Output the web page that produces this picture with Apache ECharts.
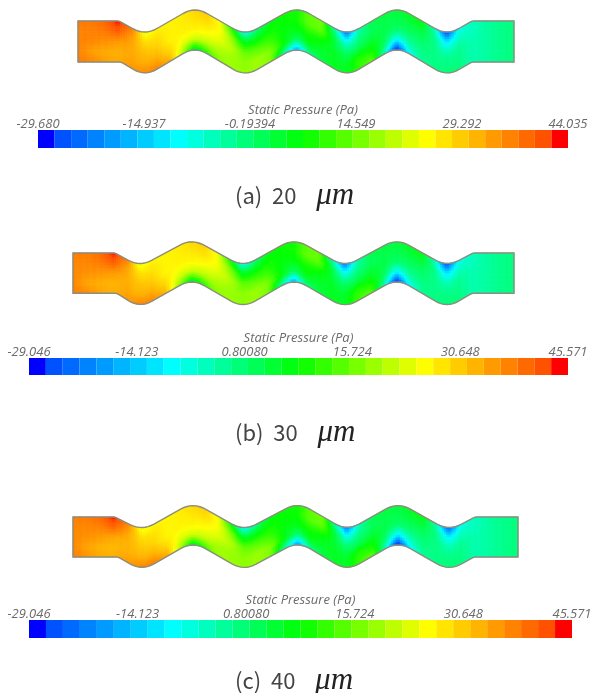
<!DOCTYPE html>
<html><head><meta charset="utf-8">
<style>html,body{margin:0;padding:0;background:#fff}#main{width:598px;height:693px;filter:blur(0.55px)}</style>
<script src="https://cdn.jsdelivr.net/npm/echarts@6/dist/echarts.min.js"></script>
</head><body><div id="main"></div>
<script>
// Wall vertices: [x, y, corner rounding]
const topWallA=[[78,21,0],[119,21,2],[145,35.4,12],[195,6.6,12],[245,35.4,12],[297,6.6,12],[347,35.4,12],[397,6.6,12],[447,35.4,12],[472,21,2],[514,21,0]];
const botWallA=[[78,62,0],[121,62,2],[145,76.4,12],[195,46.4,12],[245,76.4,12],[297,46.6,12],[347,76.4,12],[397,46.4,12],[447,76.4,12],[472,62,2],[514,62,0]];
const topWallB=[[73,23,0],[115,23,2],[140,36.7,12],[192,8.6,12],[243,36.7,12],[294,8.6,12],[345,36.7,12],[397,8.6,12],[447,36.7,12],[473,23,2],[514,23,0]];
const botWallB=[[73,63.3,0],[117,63.3,2],[140,78,12],[192,48.6,12],[243,78,12],[294,48.6,12],[345,78,12],[397,48.6,12],[447,78,12],[472,63.3,2],[514,63.3,0]];
const topWallC=[[73,27,0],[115,27,2],[142,40.7,12],[193,12.3,12],[244,40.7,12],[298,12.3,12],[347,40.7,12],[398,12.3,12],[449,40.7,12],[475,27,2],[518,27,0]];
const botWallC=[[73,67,0],[118,67,2],[142,80.7,12],[193,51.6,12],[244,80.7,12],[298,51.6,12],[347,80.7,12],[398,51.6,12],[449,80.7,12],[474,67,2],[518,67,0]];

// Stations along each channel
const stationsA=[78,92,106,118,132,145,157,170,183,195,207,220,232,245,258,271,284,297,309,322,334,347,359,372,384,397,409,422,434,447,459,472,486,500,514];
const stationsB=[73,87,101,114,127,140,152,165,178,192,204,217,230,243,256,268,281,294,306,319,332,345,358,371,384,397,409,422,434,447,459,473,486,500,514];
const stationsC=[73,87,101,114,128,142,154,167,180,193,205,218,231,244,258,271,285,298,310,323,335,347,360,373,385,398,410,423,436,449,461,475,489,503,518];

// Static pressure (Pa) read at each station, from upper wall to lower wall
const pressureA=[
[38,37,37,37,38],[38,37,36.5,34,36.5],[40,38,35.5,33,34],[44,41,35,32.5,33],[38,34,33,33.5,35],
[23,28,31,32.5,36],[26,28,30,33,37],[26,26,26,29,33],[27,26.5,26,23,19],[29,27.5,26,21,3],
[30,28,25,20,9],[25,25,23,19,17],[9,17,20,18,18],[-10,5,14,17,17],[-1,6,13,18,18],
[6,8,11,16,16],[8,7,6,7,-3],[8,8,6,0,-19],[13,14,9,6,-2],[15,14,7,4,3],
[-3,3,4,5,5],[-25,-9,0,4,5],[-5,-2,2,10,10],[2,1,4,8,14],[3,2,2,1,-4],
[3,2,0,-11,-31],[5,3,0,-4,-11],[7,3,0,-2,-3],[-5,-2,-2,-2,-2],[-29,-13,-5,-2,-1],
[-10,-6,-3,-2,-1],[-6,-6,-5,-5,-5],[-4,-4,-4,-4,-4],[-2.5,-2.5,-2.5,-2.5,-2.5],[-1.5,-1.5,-1.5,-1.5,-1.5]];
const pressureB=[
[39,38,38,38,39],[39,38,37,35,37.5],[41,39,36.5,34,35],[45.5,42,36,33.5,34],[39,35,34,34.5,36],
[24,29,32,33.5,38],[27,29,31,34,38],[27,27,27,30,34],[28,27.5,27,24,20],[30,28.5,27,22,4],
[31,29,26,21,10],[26,26,24,20,18],[10,18,21,19,19],[-9,6,15,18,18],[0,7,14,19,19],
[7,9,12,17,17],[9,8,7,8,-2],[9,9,7,1,-18],[14,15,10,7,-1],[16,15,8,5,4],
[-2,4,5,6,6],[-24,-8,1,5,6],[-4,-1,3,11,12],[3,2,5,9,15],[4,3,3,2,-3],
[4,3,1,-10,-30],[6,4,1,-3,-10],[8,4,1,-1,-2],[-4,-1,-1,-1,-1],[-28,-12,-4,-1,0],
[-9,-5,-2,-1,0],[-5,-5,-4,-4,-4],[-3,-3,-3,-3,-3],[-1.5,-1.5,-1.5,-1.5,-1.5],[-0.5,-0.5,-0.5,-0.5,-0.5]];
const pressureC=[
[39,38,38,38,39],[39,38,37,35,36.5],[41,38.5,36,33.5,34.5],[45.5,41.5,35,33,34],[39,35,33.5,34,36],
[24,29,31.5,33.5,38],[27,29,30.5,34,39],[27,27,27,30,35],[28,27.5,27,24,21],[30,28.5,27,23,5],
[31,29,26,22,11],[26,26,24,20,19],[9,17,21,19,19],[-11,5,15,18,18],[0,7,14,19,19],
[7,9,12,17,17],[9,8,7,7,-3],[9,9,7,0,-20],[14,15,10,7,-2],[16,15,8,5,4],
[-2,4,5,6,6],[-23,-8,1,5,6],[-4,-1,3,11,12],[3,2,5,9,15],[4,3,3,1,-4],
[4,3,1,-11,-31],[6,4,1,-4,-11],[8,4,1,-1,-2],[-4,-1,-1,-1,-1],[-26,-11,-4,-1,0],
[-9,-5,-2,-1,0],[-5,-5,-4,-4,-4],[-3,-3,-3,-3,-3],[-1.5,-1.5,-1.5,-1.5,-1.5],[-0.5,-0.5,-0.5,-0.5,-0.5]];

const rangeA=[-29.680,44.035], rangeB=[-29.046,45.571], rangeC=[-29.046,45.571];
const tickLabelsA=['-29.680','-14.937','-0.19394','14.549','29.292','44.035'];
const tickLabelsB=['-29.046','-14.123','0.80080','15.724','30.648','45.571'];
const tickLabelsC=['-29.046','-14.123','0.80080','15.724','30.648','45.571'];
const barTitle='Static Pressure (Pa)';
const captionText=[['(a)','20'],['(b)','30'],['(c)','40']];
const bandCount=32;

const stops=[[0,[0,0,255]],[.03,[0,80,255]],[.26,[0,255,255]],[.5,[0,255,0]],[.74,[255,255,0]],[.97,[255,80,0]],[1,[255,0,0]]];
function colorAt(t){
  t=Math.max(0,Math.min(1,t));
  for(let i=1;i<stops.length;i++){
    if(t<=stops[i][0]){
      const a=stops[i-1],b=stops[i],u=(t-a[0])/(b[0]-a[0]);
      const c=a[1].map((v,k)=>Math.round(v+(b[1][k]-v)*u));
      return 'rgb('+c.join(',')+')';
    }
  }
  return 'rgb(255,0,0)';
}
function roundWall(verts){
  const out=[];
  verts.forEach((v,i)=>{
    const r=v[2];
    if(!r){out.push([v[0],v[1]]);return;}
    const p=verts[i-1],n=verts[i+1];
    const a=[v[0]-r,v[1]+(p[1]-v[1])*r/(v[0]-p[0])], b=[v[0]+r,v[1]+(n[1]-v[1])*r/(n[0]-v[0])];
    const N=8;
    for(let k=0;k<=N;k++){
      const u=k/N,w=1-u;
      out.push([w*w*a[0]+2*w*u*v[0]+u*u*b[0], w*w*a[1]+2*w*u*v[1]+u*u*b[1]]);
    }
  });
  return out;
}
function wallY(line,x){
  for(let i=1;i<line.length;i++){
    if(x<=line[i][0]){
      const a=line[i-1],b=line[i],d=b[0]-a[0];
      return d>0?a[1]+(b[1]-a[1])*(x-a[0])/d:b[1];
    }
  }
  return line[line.length-1][1];
}
const grids=[],xAxes=[],yAxes=[],series=[],titles=[];
function addPanel(top,height,stations,pressure,range,topWall,botWall){
  const idx=grids.length;
  grids.push({left:0,right:0,top:top,height:height,containLabel:false});
  xAxes.push({gridIndex:idx,type:'value',min:0,max:598,show:false});
  yAxes.push({gridIndex:idx,type:'value',min:0,max:height,inverse:true,show:false});
  const T=roundWall(topWall),B=roundWall(botWall),cells=[];
  for(let i=0;i<stations.length-1;i++)for(let j=0;j<4;j++){
    cells.push([stations[i],j/4,stations[i+1],pressure[i][j],pressure[i+1][j],pressure[i][j+1],pressure[i+1][j+1]]);
  }
  const span=range[1]-range[0];
  series.push({type:'custom',xAxisIndex:idx,yAxisIndex:idx,silent:true,animation:false,clip:false,
    data:cells,encode:{x:0,y:1},
    renderItem:(p,api)=>{
      const c=cells[p.dataIndex],x0=c[0],x1=c[2],t0=c[1];
      const nx=Math.max(2,Math.ceil((x1-x0)/2.5)),ny=4,children=[];
      const pt=(x,t)=>{const yt=wallY(T,x),yb=wallY(B,x);return api.coord([x,yt+(yb-yt)*t]);};
      for(let a=0;a<nx;a++)for(let b=0;b<ny;b++){
        const xa=x0+(x1-x0)*a/nx,xb=x0+(x1-x0)*(a+1)/nx,ta=t0+.25*b/ny,tb=t0+.25*(b+1)/ny;
        const u=(a+.5)/nx,w=(b+.5)/ny;
        const v=(c[3]*(1-u)+c[4]*u)*(1-w)+(c[5]*(1-u)+c[6]*u)*w;
        const col=colorAt((v-range[0])/span);
        children.push({type:'polygon',silent:true,shape:{points:[pt(xa,ta),pt(xb,ta),pt(xb,tb),pt(xa,tb)]},style:{fill:col,stroke:col,lineWidth:.7}});
      }
      return {type:'group',children};
    }});
  const outline=T.concat(B.slice().reverse());
  series.push({type:'custom',xAxisIndex:idx,yAxisIndex:idx,silent:true,animation:false,clip:false,z:5,
    data:[[stations[0],0]],encode:{x:0,y:1},
    renderItem:(p,api)=>({type:'polygon',shape:{points:outline.map(q=>api.coord(q))},style:{fill:'none',stroke:'#8d8d80',lineWidth:1.4}})});
}
function addBar(left,width,top,height,range,labels,gap){
  const idx=grids.length;
  grids.push({left:left,width:width,top:top,height:height});
  const vals=labels.map(Number);
  xAxes.push({gridIndex:idx,type:'value',position:'top',min:range[0],max:range[1],splitLine:{show:false},
    axisLine:{show:false},axisTick:{show:false},
    name:barTitle,nameLocation:'middle',nameGap:gap,
    nameTextStyle:{fontFamily:'Open Sans',fontStyle:'italic',fontSize:13,color:'#6a6a6a'},
    axisLabel:{show:true,customValues:vals,margin:-1,hideOverlap:false,fontFamily:'Open Sans',fontStyle:'italic',fontSize:13,color:'#6a6a6a',
      formatter:v=>{let k=0;vals.forEach((n,i)=>{if(Math.abs(n-v)<Math.abs(vals[k]-v))k=i;});return labels[k];}}});
  yAxes.push({gridIndex:idx,type:'value',min:0,max:1,show:false});
  const step=(range[1]-range[0])/bandCount,bands=[];
  for(let i=0;i<bandCount;i++)bands.push([range[0]+i*step,0,range[0]+(i+1)*step,i/(bandCount-1)]);
  series.push({type:'custom',xAxisIndex:idx,yAxisIndex:idx,silent:true,animation:false,data:bands,encode:{x:[0,2],y:1},
    renderItem:(p,api)=>{
      const a=api.coord([api.value(0),0]),b=api.coord([api.value(2),1]);
      return {type:'rect',shape:{x:a[0],y:b[1],width:b[0]-a[0],height:a[1]-b[1]},style:{fill:colorAt(api.value(3))}};
    }});
}
addPanel(0,90,stationsA,pressureA,rangeA,topWallA,botWallA);
addBar(38,530,130,18,rangeA,tickLabelsA,13);
addPanel(230,90,stationsB,pressureB,rangeB,topWallB,botWallB);
addBar(29,539,358,17,rangeB,tickLabelsB,13);
addPanel(490,90,stationsC,pressureC,rangeC,topWallC,botWallC);
addBar(29,543,620,18,rangeC,tickLabelsC,13);
[175,412,660].forEach((y,i)=>{
  titles.push({left:230,top:y,text:captionText[i][0]+'  '+captionText[i][1]+'    {m|\u03bcm}',
    textStyle:{fontFamily:'Noto Sans CJK KR',fontWeight:400,fontSize:22,color:'#444',
      rich:{m:{fontFamily:'Liberation Serif',fontStyle:'italic',fontSize:31,color:'#222'}}}});
});
const chart=echarts.init(document.getElementById('main'),null,{renderer:'canvas'});
chart.setOption({animation:false,backgroundColor:'#fff',title:titles,grid:grids,xAxis:xAxes,yAxis:yAxes,series:series});
</script></body></html>
